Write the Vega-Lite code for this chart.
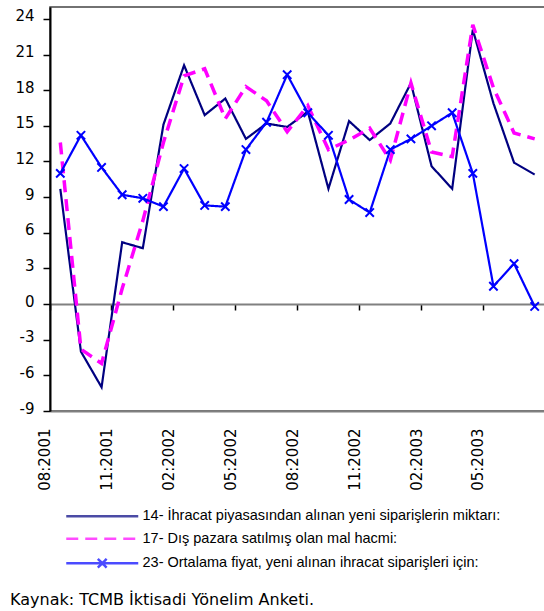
{
  "$schema": "https://vega.github.io/schema/vega-lite/v6.json",
  "width": 495,
  "height": 404,
  "autosize": {"type": "none"},
  "padding": {"left": 50, "top": 7, "right": 0, "bottom": 200},
  "background": "white",
  "config": {"view": {"stroke": "#444444", "strokeWidth": 1.5}, "font": "DejaVu Sans",
    "legend": {"title": null, "orient": "none", "legendX": 45, "legendY": 502, "symbolSize": 64, "labelOffset": 33, "labelFont": "Liberation Sans", "labelFontSize": 14.5, "labelColor": "#000000", "labelLimit": 600, "rowPadding": 7.5, "symbolStrokeWidth": 2.5}},
  "title": {"text": "Kaynak: TCMB İktisadi Yönelim Anketi.", "orient": "bottom", "anchor": "start", "frame": "group", "dx": -40, "offset": 19, "font": "DejaVu Sans", "fontSize": 16, "fontWeight": "normal", "color": "#000000"},
  "data": {"values": [
    {"ay": "08:2001", "14- İhracat piyasasından alınan yeni siparişlerin miktarı:": 9.7, "17- Dış pazara satılmış olan mal hacmi:": 13.6, "23- Ortalama fiyat, yeni alınan ihracat siparişleri için:": 11.0},
    {"ay": "09:2001", "14- İhracat piyasasından alınan yeni siparişlerin miktarı:": -4.0, "17- Dış pazara satılmış olan mal hacmi:": -3.8, "23- Ortalama fiyat, yeni alınan ihracat siparişleri için:": 14.2},
    {"ay": "10:2001", "14- İhracat piyasasından alınan yeni siparişlerin miktarı:": -7.0, "17- Dış pazara satılmış olan mal hacmi:": -5.0, "23- Ortalama fiyat, yeni alınan ihracat siparişleri için:": 11.5},
    {"ay": "11:2001", "14- İhracat piyasasından alınan yeni siparişlerin miktarı:": 5.2, "17- Dış pazara satılmış olan mal hacmi:": 1.3, "23- Ortalama fiyat, yeni alınan ihracat siparişleri için:": 9.2},
    {"ay": "12:2001", "14- İhracat piyasasından alınan yeni siparişlerin miktarı:": 4.7, "17- Dış pazara satılmış olan mal hacmi:": 7.0, "23- Ortalama fiyat, yeni alınan ihracat siparişleri için:": 8.9},
    {"ay": "01:2002", "14- İhracat piyasasından alınan yeni siparişlerin miktarı:": 15.1, "17- Dış pazara satılmış olan mal hacmi:": 13.6, "23- Ortalama fiyat, yeni alınan ihracat siparişleri için:": 8.2},
    {"ay": "02:2002", "14- İhracat piyasasından alınan yeni siparişlerin miktarı:": 20.1, "17- Dış pazara satılmış olan mal hacmi:": 19.2, "23- Ortalama fiyat, yeni alınan ihracat siparişleri için:": 11.4},
    {"ay": "03:2002", "14- İhracat piyasasından alınan yeni siparişlerin miktarı:": 15.9, "17- Dış pazara satılmış olan mal hacmi:": 19.8, "23- Ortalama fiyat, yeni alınan ihracat siparişleri için:": 8.3},
    {"ay": "04:2002", "14- İhracat piyasasından alınan yeni siparişlerin miktarı:": 17.3, "17- Dış pazara satılmış olan mal hacmi:": 15.6, "23- Ortalama fiyat, yeni alınan ihracat siparişleri için:": 8.2},
    {"ay": "05:2002", "14- İhracat piyasasından alınan yeni siparişlerin miktarı:": 13.9, "17- Dış pazara satılmış olan mal hacmi:": 18.3, "23- Ortalama fiyat, yeni alınan ihracat siparişleri için:": 13.0},
    {"ay": "06:2002", "14- İhracat piyasasından alınan yeni siparişlerin miktarı:": 15.2, "17- Dış pazara satılmış olan mal hacmi:": 17.1, "23- Ortalama fiyat, yeni alınan ihracat siparişleri için:": 15.3},
    {"ay": "07:2002", "14- İhracat piyasasından alınan yeni siparişlerin miktarı:": 14.9, "17- Dış pazara satılmış olan mal hacmi:": 14.5, "23- Ortalama fiyat, yeni alınan ihracat siparişleri için:": 19.3},
    {"ay": "08:2002", "14- İhracat piyasasından alınan yeni siparişlerin miktarı:": 16.2, "17- Dış pazara satılmış olan mal hacmi:": 16.7, "23- Ortalama fiyat, yeni alınan ihracat siparişleri için:": 16.1},
    {"ay": "09:2002", "14- İhracat piyasasından alınan yeni siparişlerin miktarı:": 9.7, "17- Dış pazara satılmış olan mal hacmi:": 13.0, "23- Ortalama fiyat, yeni alınan ihracat siparişleri için:": 14.2},
    {"ay": "10:2002", "14- İhracat piyasasından alınan yeni siparişlerin miktarı:": 15.4, "17- Dış pazara satılmış olan mal hacmi:": 13.8, "23- Ortalama fiyat, yeni alınan ihracat siparişleri için:": 8.8},
    {"ay": "11:2002", "14- İhracat piyasasından alınan yeni siparişlerin miktarı:": 13.8, "17- Dış pazara satılmış olan mal hacmi:": 14.8, "23- Ortalama fiyat, yeni alınan ihracat siparişleri için:": 7.7},
    {"ay": "12:2002", "14- İhracat piyasasından alınan yeni siparişlerin miktarı:": 15.2, "17- Dış pazara satılmış olan mal hacmi:": 12.1, "23- Ortalama fiyat, yeni alınan ihracat siparişleri için:": 13.0},
    {"ay": "01:2003", "14- İhracat piyasasından alınan yeni siparişlerin miktarı:": 18.6, "17- Dış pazara satılmış olan mal hacmi:": 18.6, "23- Ortalama fiyat, yeni alınan ihracat siparişleri için:": 13.9},
    {"ay": "02:2003", "14- İhracat piyasasından alınan yeni siparişlerin miktarı:": 11.6, "17- Dış pazara satılmış olan mal hacmi:": 12.8, "23- Ortalama fiyat, yeni alınan ihracat siparişleri için:": 15.0},
    {"ay": "03:2003", "14- İhracat piyasasından alınan yeni siparişlerin miktarı:": 9.7, "17- Dış pazara satılmış olan mal hacmi:": 12.4, "23- Ortalama fiyat, yeni alınan ihracat siparişleri için:": 16.1},
    {"ay": "04:2003", "14- İhracat piyasasından alınan yeni siparişlerin miktarı:": 23.1, "17- Dış pazara satılmış olan mal hacmi:": 23.5, "23- Ortalama fiyat, yeni alınan ihracat siparişleri için:": 11.0},
    {"ay": "05:2003", "14- İhracat piyasasından alınan yeni siparişlerin miktarı:": 16.9, "17- Dış pazara satılmış olan mal hacmi:": 18.2, "23- Ortalama fiyat, yeni alınan ihracat siparişleri için:": 1.5},
    {"ay": "06:2003", "14- İhracat piyasasından alınan yeni siparişlerin miktarı:": 11.9, "17- Dış pazara satılmış olan mal hacmi:": 14.4, "23- Ortalama fiyat, yeni alınan ihracat siparişleri için:": 3.4},
    {"ay": "07:2003", "14- İhracat piyasasından alınan yeni siparişlerin miktarı:": 10.9, "17- Dış pazara satılmış olan mal hacmi:": 13.9, "23- Ortalama fiyat, yeni alınan ihracat siparişleri için:": -0.2}
  ]},
  "transform": [
    {"fold": ["14- İhracat piyasasından alınan yeni siparişlerin miktarı:", "17- Dış pazara satılmış olan mal hacmi:", "23- Ortalama fiyat, yeni alınan ihracat siparişleri için:"], "as": ["seri", "deger"]}
  ],
  "layer": [
    {
      "mark": {"type": "line", "strokeJoin": "miter"},
      "encoding": {
        "x": {"field": "ay", "type": "ordinal", "sort": null, "scale": {"type": "band", "paddingInner": 0, "paddingOuter": 0},
          "axis": {"orient": "bottom", "title": null, "values": ["08:2001", "11:2001", "02:2002", "05:2002", "08:2002", "11:2002", "02:2003", "05:2003"], "bandPosition": 0, "labelOffset": -15, "labelAngle": 270, "labelAlign": "right", "labelBaseline": "middle", "labelFont": "DejaVu Sans", "labelFontSize": 15, "labelColor": "#000000", "ticks": false, "labelPadding": 17, "domainColor": "#808080", "domainWidth": 2, "grid": false}},
        "y": {"field": "deger", "type": "quantitative", "scale": {"domain": [-9, 25], "nice": false, "zero": false},
          "axis": {"title": null, "values": [-9, -6, -3, 0, 3, 6, 9, 12, 15, 18, 21, 24], "labelExpr": "'' + datum.value", "grid": false, "labelOverlap": false, "labelFont": "DejaVu Sans", "labelFontSize": 15, "labelColor": "#000000", "labelPadding": 9, "labelOffset": -3, "domainColor": "#000000", "domainWidth": 2, "ticks": true, "tickColor": "#000000", "tickSize": 7, "tickWidth": 1.5}},
        "color": {"field": "seri", "type": "nominal",
          "scale": {"domain": ["14- İhracat piyasasından alınan yeni siparişlerin miktarı:", "17- Dış pazara satılmış olan mal hacmi:", "23- Ortalama fiyat, yeni alınan ihracat siparişleri için:"], "range": ["#000080", "#ff00ff", "#0000ff"]}},
        "strokeDash": {"field": "seri", "type": "nominal",
          "scale": {"domain": ["14- İhracat piyasasından alınan yeni siparişlerin miktarı:", "17- Dış pazara satılmış olan mal hacmi:", "23- Ortalama fiyat, yeni alınan ihracat siparişleri için:"], "range": [[1, 0], [12, 7], [1, 0]]}},
        "strokeWidth": {"condition": {"test": "datum.seri === '17- Dış pazara satılmış olan mal hacmi:'", "value": 3.5}, "value": 2.2}
      }
    },
    {
      "transform": [{"filter": "datum.seri === '23- Ortalama fiyat, yeni alınan ihracat siparişleri için:'"}],
      "mark": {"type": "point", "shape": "M-1,-1L1,1M-1,1L1,-1", "filled": false, "size": 70, "strokeWidth": 2, "color": "#0000ff", "opacity": 1},
      "encoding": {
        "x": {"field": "ay", "type": "ordinal", "sort": null,
          "axis": {"orient": "bottom", "title": null, "values": ["08:2001", "11:2001", "02:2002", "05:2002", "08:2002", "11:2002", "02:2003", "05:2003"], "bandPosition": 0, "labels": false, "ticks": true, "tickSize": 6, "tickWidth": 1.5, "tickColor": "#000000", "domainColor": "#808080", "domainWidth": 2, "offset": -107, "grid": false}},
        "y": {"field": "deger", "type": "quantitative",
          "axis": {"title": null, "values": [-9, -6, -3, 0, 3, 6, 9, 12, 15, 18, 21, 24], "labelExpr": "'' + datum.value", "grid": false, "labelOverlap": false, "labelFont": "DejaVu Sans", "labelFontSize": 15, "labelColor": "#000000", "labelPadding": 9, "labelOffset": -3, "domainColor": "#000000", "domainWidth": 2, "ticks": true, "tickColor": "#000000", "tickSize": 7, "tickWidth": 1.5}}
      }
    },
    {
      "mark": {"type": "point", "filled": false, "size": 0, "strokeWidth": 2.5},
      "encoding": {
        "x": {"field": "ay", "type": "ordinal", "sort": null, "axis": null},
        "y": {"field": "deger", "type": "quantitative",
          "axis": {"title": null, "values": [-9, -6, -3, 0, 3, 6, 9, 12, 15, 18, 21, 24], "labelExpr": "'' + datum.value", "grid": false, "labelOverlap": false, "labelFont": "DejaVu Sans", "labelFontSize": 15, "labelColor": "#000000", "labelPadding": 9, "labelOffset": -3, "domainColor": "#000000", "domainWidth": 2, "ticks": true, "tickColor": "#000000", "tickSize": 7, "tickWidth": 1.5}},
        "color": {"field": "seri", "type": "nominal"},
        "strokeDash": {"field": "seri", "type": "nominal"},
        "shape": {"field": "seri", "type": "nominal",
          "scale": {"domain": ["14- İhracat piyasasından alınan yeni siparişlerin miktarı:", "17- Dış pazara satılmış olan mal hacmi:", "23- Ortalama fiyat, yeni alınan ihracat siparişleri için:"], "range": ["M-9,0L9,0", "M-9,0L9,0", "M-9,0L9,0M-1.1,-1.1L1.1,1.1M-1.1,1.1L1.1,-1.1"]}}
      }
    }
  ],
  "resolve": {"axis": {"x": "independent"}}
}
